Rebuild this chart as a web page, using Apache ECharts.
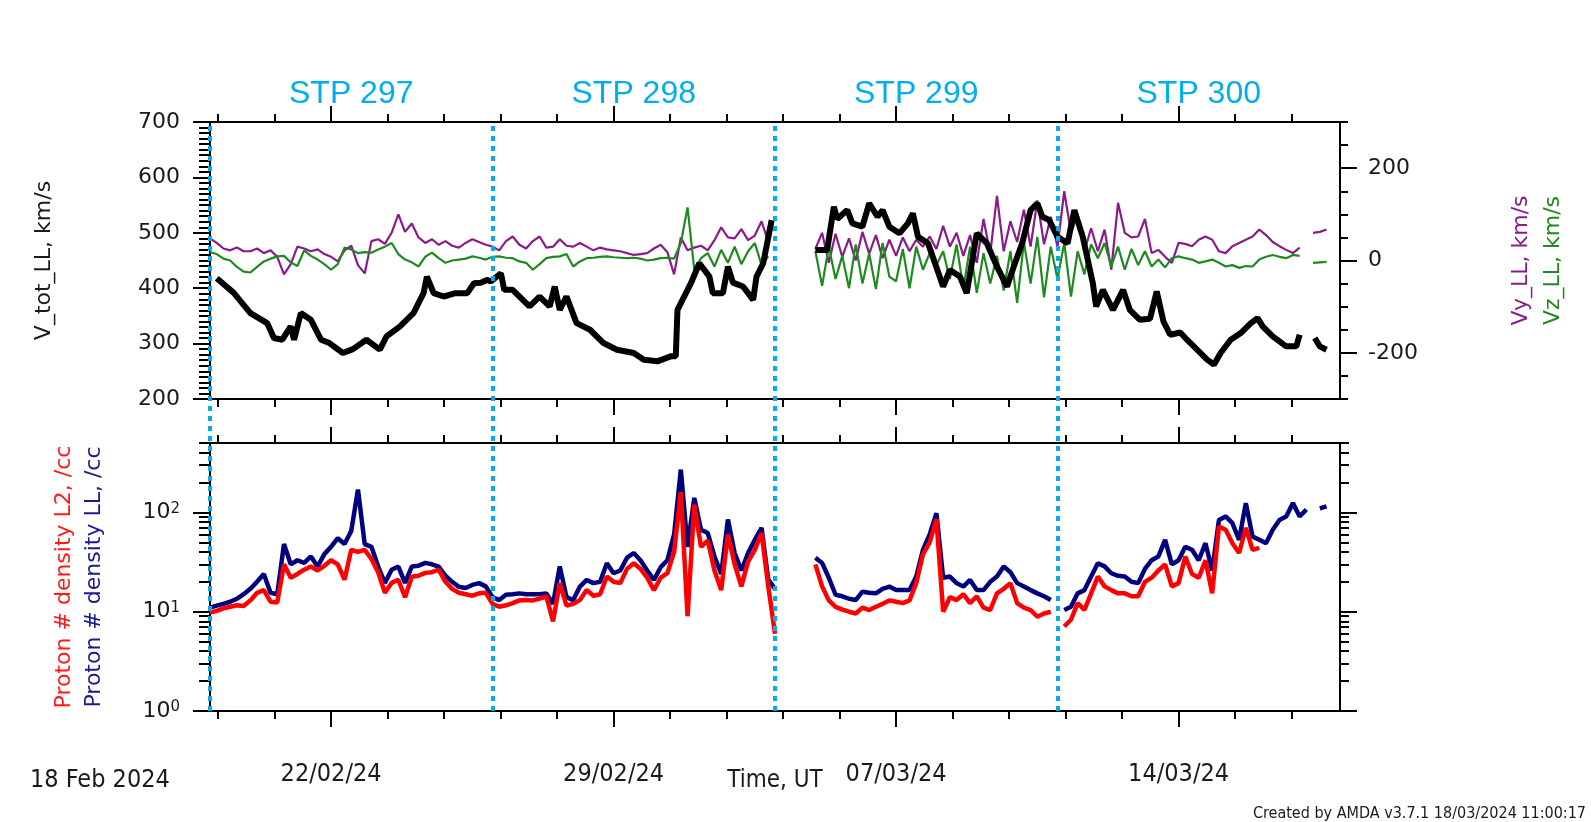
<!DOCTYPE html>
<html><head><meta charset="utf-8">
<script src="https://cdn.jsdelivr.net/npm/echarts@6/dist/echarts.min.js"></script>
<style>html,body{margin:0;padding:0;background:#fff;}#c{width:1591px;height:822px;}</style>
</head><body><div id="c"></div>
<script>
// ---------- time frame ----------
const startDate = '2024-02-19';
const endDate = '2024-03-18';
const stepHours = 4; // cadence of the uniform arrays below

// ---------- STP intervals ----------
const stpNames = ['STP 297', 'STP 298', 'STP 299', 'STP 300'];
const stpStarts = ['2024-02-19', '2024-02-26', '2024-03-04', '2024-03-11'];
const stpEnds = ['2024-02-26', '2024-03-04', '2024-03-11', '2024-03-18'];

// ---------- tick labels ----------
const majorTickDates = ['2024-02-22', '2024-02-29', '2024-03-07', '2024-03-14'];
const vyzLabelTicks = [-200, 0, 200];
const densLabelTicks = [1, 10, 100];
const densMinorTicks = [2, 3, 4, 5, 6, 7, 8, 9, 20, 30, 40, 50, 60, 70, 80, 90, 200, 300, 400, 500];

// ---------- V_tot_LL (km/s): hours since start, values ----------
const vtotHours = [4,14,24,34,38,43,48,50,54,60,66,71,79,85,93,101,105,113,121,127,129,133,139,146,153,157,161,165,167,
  173,175,180,186,190,196,202,205,208,212,218,226,234,242,252,258,266,274,277,278,286,291,297,299,305,308,311,317,323,325,329,334,
  340,
  360,367,371,373,379,382,388,392,397,400,404,410,415,418,421,427,436,440,446,450,456,462,468,474,478,483,488,492,495,499,504,510,514,519,525,527,531,537,543,547,553,559,563,567,571,577,581,587,593,597,601,607,613,619,623,626,632,640,646,648,
  652,
  657,660,664];
const vtotValues = [418,392,355,337,310,307,331,307,355,343,307,301,283,290,307,289,313,331,355,391,421,391,385,391,391,409,410,415,412,
  427,397,397,379,367,385,367,403,361,385,337,325,301,289,283,271,268,277,277,361,409,445,421,391,391,439,410,403,379,421,445,523,
  null,
  469,469,547,525,541,517,511,553,529,541,511,499,517,535,493,481,403,433,421,391,499,481,439,403,439,481,541,553,529,523,493,481,541,493,409,367,397,361,397,361,343,345,394,340,316,320,307,289,271,262,283,307,319,337,346,331,313,295,295,316,
  null,
  310,295,289];

// ---------- Vy_LL (km/s), every 4 h, one row per day ----------
const vyValues = [
  48, 38, 26, 22, 28, 20,
  20, 26, 16, 22, 8, -30,
  -8, 30, 26, 20, 24, 14,
  8, -2, 22, 32, -10, -28,
  42, 46, 36, 60, 100, 62,
  80, 50, 38, 46, 34, 42,
  32, 28, 38, 46, 40, 34,
  30, 22, 42, 52, 34, 26,
  42, 52, 28, 30, 46, 32,
  30, 38, 30, 22, 28, 24,
  22, 20, 16, 12, 14, 16,
  26, 34, 18, -30, 50, 22,
  28, 32, 22, 44, 72, 50,
  48, 68, 44, 54, 85, 40,
  null, null, null, null, null, null,
  25, 60, -5, 58, 8, 48,
  0, 62, 15, 55, 5, 45,
  10, 50, 20, 45, 30, 52,
  25, 75, 30, 60, 10, 55,
  -5, 90, 15, 140, 20, 85,
  40, 110, 30, 130, 35, 95,
  30, 150, 60, 100, 20, 70,
  20, 67, -20, 125, 60, 50,
  52, 90, 16, 23, 8, -5,
  38, 36, 31, 45, 52, 45,
  20, 16, 31, 38, 45, 52,
  67, 55, 40, 31, 23, 16,
  28, null, 60, 62, 67, null
];

// ---------- Vz_LL (km/s), every 4 h ----------
const vzValues = [
  18, 14, 4, 0, -14, -24,
  -26, -14, -2, 4, 9, 10,
  -4, -12, 22, 10, 2, -8,
  -20, -8, 28, 24, 16, 18,
  17, 24, 30, 38, 14, 2,
  -4, -13, 8, 17, 5, -5,
  0, 2, 4, 9, 6, 2,
  8, 9, 6, 5, -2, -5,
  -20, -8, 5, 8, 9, 14,
  -13, -2, 5, 6, 8, 9,
  7, 6, 5, 6, 4, 0,
  2, 5, 6, 4, 38, 115,
  -20, 5, 16, -13, 23, -5,
  30, -8, 20, 38, -10, 9,
  null, null, null, null, null, null,
  20, -55, 30, -40, 10, -60,
  35, -50, 15, -62, 38, -35,
  -45, 25, -60, 30, -20, 16,
  -10, 20, -40, 35, -60, 30,
  -70, 16, -50, 10, -65, 20,
  -92, 40, -50, 51, -80, 30,
  -40, 38, -78, 20, -30, 35,
  5, 38, -13, 30, -20, 25,
  -10, 20, -13, 2, -15, 5,
  9, 5, 2, -5, -2, 2,
  -5, -13, -10, -16, -12, -13,
  2, 8, 12, 8, 5, 12,
  10, null, -5, -4, -3, null
];

// ---------- Proton density L2 (/cc), every 4 h ----------
const densL2Values = [
  9.8, 10.2, 10.8, 11.2, 11.6, 11.4,
  13, 15.5, 16.5, 12.6, 12.4, 30,
  22, 24, 26.5, 28.5, 26, 29,
  33, 30, 21, 42, 40, 42,
  34, 25, 15.5, 19.5, 21, 14,
  22.5, 23, 24.6, 25, 26.5, 20,
  17, 15.5, 15, 14.5, 15.3, 15.5,
  12, 11.2, 11.6, 12.2, 13, 13.1,
  13, 13.5, 14.3, 8, 19.4, 11.5,
  12, 13.1, 16.5, 14.5, 15, 22.6,
  20, 19.4, 27, 30.8, 27, 22,
  16.5, 22, 24.4, 40, 160, 9,
  120, 45, 52, 26, 16.5, 60,
  30, 18, 32, 42, 62, 18,
  6, null, null, null, null, null,
  30, 18, 13, 11.2, 10.5, 10,
  9.6, 11, 10.4, 11.2, 12, 13,
  12.6, 12.2, 13, 19.4, 38, 50,
  85, 10, 14, 13.1, 15, 12.2,
  14.3, 11, 10.4, 15.3, 17, 19.4,
  12.2, 11, 10.4, 8.9, 9.6, 10,
  null, 7.1, 8.3, 12.2, 10.4, 15.3,
  22.6, 18, 16.5, 15.3, 15.3, 14.3,
  14.3, 20, 22, 26, 30, 18,
  19.4, 36, 24, 22, 33, 15.3,
  72, 67, 49, 39, 70, 42,
  44, null, null, null, null, null,
  null, null, null, null, null, null
];

// ---------- Proton density LL (/cc), every 4 h ----------
const densLLValues = [
  11, 11.5, 12, 12.6, 13.5, 15,
  17, 20, 24, 15.5, 15, 48,
  30, 33, 31, 36, 28.5, 38,
  45, 55, 48, 65, 170, 48,
  45, 28.5, 19.5, 26.5, 28.5, 19.5,
  28.5, 29, 31, 30, 28.5, 23,
  20, 17.8, 17.3, 18.6, 19.4, 18,
  14, 13.1, 14.8, 15, 15.3, 15,
  15, 15, 15.3, 12, 28.6, 14,
  13.1, 17.9, 20.9, 19.4, 20, 30.8,
  24.4, 26, 35, 39, 33, 26,
  20.9, 28, 33, 60, 270, 45,
  140, 67, 62, 36, 24, 85,
  39, 26, 39, 53, 70, 21,
  17, null, null, null, null, null,
  35, 31, 22, 14.8, 14.3, 13.5,
  13.1, 15.9, 15.5, 15.3, 17, 17.9,
  16.5, 16.5, 16.5, 22.6, 42, 60,
  98, 22, 22.6, 19.4, 17.9, 20.9,
  16.5, 16.5, 20, 22.6, 28.6, 25,
  19.4, 17.9, 16.5, 15.3, 14.3, 13.1,
  null, 10.4, 11.2, 15.3, 16.5, 22.6,
  30.8, 28.6, 24.4, 23, 22.6, 20,
  19.4, 27, 33, 36, 53, 30,
  33, 45, 42, 33, 49, 26,
  84, 91, 78, 53, 124, 57,
  53, 49, 67, 84, 91, 124,
  91, 107, null, 110, 115, null
];

// ---------- builders ----------
const HOUR = 3600 * 1000, DAY = 24 * HOUR;
const T0 = Date.parse(startDate), T1 = Date.parse(endDate);
const val = v => (v === null ? '-' : v);
const uniformSeries = arr => arr.map((v, i) => [T0 + i * stepHours * HOUR, val(v)]);
const pairedSeries = (hrs, vals) => hrs.map((h, i) => [T0 + h * HOUR, val(vals[i])]);
const majorTicks = majorTickDates.map(d => Date.parse(d));
const minorTicks = [];
for (let k = 0; k < 20; k++) minorTicks.push(T0 + (0.2 + 1.4 * k) * DAY);
const vMinorTicks = [];
for (let v = 200; v <= 700; v += 10) vMinorTicks.push(v);
const pad2 = n => (n < 10 ? '0' : '') + n;
const fmtDate = v => { const d = new Date(v); return pad2(d.getUTCDate()) + '/' + pad2(d.getUTCMonth() + 1) + '/' + String(d.getUTCFullYear()).slice(2); };

const TXT = '#1a1a1a';
const FONT = 'DejaVu Sans';
const CFONT = 'DejaVu Sans Condensed';
const AXLINE = { show: true, onZero: false, lineStyle: { color: '#000', width: 2 } };
const tickStyle = { color: '#000', width: 2 };

const G_TOP = { left: 210, top: 122, width: 1130, height: 277, outerBoundsMode: 'none', containLabel: false };
const G_BOT = { left: 210, top: 443, width: 1130, height: 268, outerBoundsMode: 'none', containLabel: false };
const G_ALL = { left: 210, top: 122, width: 1130, height: 589, outerBoundsMode: 'none', containLabel: false };
// narrow helper grid whose right edge sits on the left frame: carries the left minor ticks of the top panel
const G_TOP_L = { left: 110, top: 122, width: 100, height: 277, outerBoundsMode: 'none', containLabel: false };

function tAxis(grid, pos, ticks, len, extra) {
  return Object.assign({
    type: 'value', gridIndex: grid, position: pos, min: T0, max: T1,
    axisLine: AXLINE,
    axisTick: { show: true, customValues: ticks, length: len, lineStyle: tickStyle },
    axisLabel: { show: false }, splitLine: { show: false }, nameMoveOverlap: false
  }, extra || {});
}

const logFmt = v => '{b|10}{s|' + Math.round(Math.log10(v)) + '}';
const logRich = {
  b: { fontSize: 22, fontFamily: FONT, color: TXT, lineHeight: 22, verticalAlign: 'bottom' },
  s: { fontSize: 15, fontFamily: FONT, color: TXT, lineHeight: 15, verticalAlign: 'top', padding: [0, 0, 12, 0] }
};

const option = {
  animation: false,
  backgroundColor: '#fff',
  textStyle: { fontFamily: FONT },
  grid: [G_TOP, G_TOP, G_BOT, G_BOT, G_ALL, G_TOP_L],
  xAxis: [
    tAxis(0, 'bottom', minorTicks, 8),
    tAxis(0, 'top', minorTicks, 8),
    tAxis(1, 'bottom', majorTicks, 16),
    tAxis(1, 'top', majorTicks, 16),
    tAxis(2, 'bottom', minorTicks, 8),
    tAxis(2, 'top', minorTicks, 8),
    tAxis(3, 'bottom', majorTicks, 16, {
      axisLabel: { show: true, customValues: majorTicks, formatter: fmtDate, fontFamily: CFONT, fontSize: 25, color: TXT, margin: 51 },
      name: 'Time, UT', nameLocation: 'middle', nameGap: 58,
      nameTextStyle: { fontFamily: CFONT, fontSize: 24, color: TXT }
    }),
    tAxis(3, 'top', majorTicks, 16),
    { type: 'value', gridIndex: 4, min: T0, max: T1, show: false },
    { type: 'value', gridIndex: 5, min: 0, max: 1, show: false }
  ],
  yAxis: [
    { type: 'value', gridIndex: 0, position: 'left', min: 200, max: 700, interval: 100,
      axisLine: AXLINE,
      axisTick: { show: true, length: 17, lineStyle: tickStyle },
      axisLabel: { show: true, fontSize: 22, fontFamily: FONT, color: TXT, margin: 30 },
      splitLine: { show: false },
      name: 'V_tot_LL, km/s', nameLocation: 'middle', nameRotate: 90, nameGap: 153,
      nameTextStyle: { fontSize: 22, fontFamily: FONT, color: TXT, lineHeight: 26 } },
    { type: 'value', gridIndex: 0, position: 'right', min: -300, max: 300, interval: 50,
      axisLine: AXLINE,
      axisTick: { show: true, length: 8, lineStyle: tickStyle },
      axisLabel: { show: false }, splitLine: { show: false } },
    { type: 'value', gridIndex: 1, position: 'right', min: -300, max: 300,
      axisLine: AXLINE,
      axisTick: { show: true, customValues: vyzLabelTicks, length: 17, lineStyle: tickStyle },
      axisLabel: { show: true, customValues: vyzLabelTicks, fontSize: 22, fontFamily: FONT, color: TXT, margin: 28 },
      splitLine: { show: false },
      name: '{a|Vy_LL, km/s}\n{b|Vz_LL, km/s}', nameLocation: 'middle', nameRotate: 90, nameGap: 165,
      nameTextStyle: { rich: {
        a: { fontSize: 22, fontFamily: FONT, color: '#8b1a8b', lineHeight: 32 },
        b: { fontSize: 22, fontFamily: FONT, color: '#1f8a1f', lineHeight: 32 } } } },
    { type: 'log', logBase: 10, gridIndex: 2, position: 'left', min: 1, max: 500,
      axisLine: AXLINE,
      axisTick: { show: true, customValues: densLabelTicks, length: 17, lineStyle: tickStyle },
      axisLabel: { show: true, customValues: densLabelTicks, formatter: logFmt, rich: logRich, margin: 30 },
      splitLine: { show: false },
      name: '{r|Proton # density L2, /cc}\n{b|Proton # density LL, /cc}', nameLocation: 'middle', nameRotate: 90, nameGap: 101,
      nameTextStyle: { rich: {
        r: { fontSize: 22, fontFamily: FONT, color: '#ff1a1a', lineHeight: 30 },
        b: { fontSize: 22, fontFamily: FONT, color: '#1a1a8c', lineHeight: 30 } } } },
    { type: 'log', logBase: 10, gridIndex: 2, position: 'right', min: 1, max: 500,
      axisLine: AXLINE,
      axisTick: { show: true, customValues: densLabelTicks, length: 17, lineStyle: tickStyle },
      axisLabel: { show: false }, splitLine: { show: false } },
    { type: 'log', logBase: 10, gridIndex: 3, position: 'left', min: 1, max: 500,
      axisLine: AXLINE,
      axisTick: { show: true, customValues: densMinorTicks, length: 11, lineStyle: tickStyle },
      axisLabel: { show: false }, splitLine: { show: false } },
    { type: 'log', logBase: 10, gridIndex: 3, position: 'right', min: 1, max: 500,
      axisLine: AXLINE,
      axisTick: { show: true, customValues: densMinorTicks, length: 9, lineStyle: tickStyle },
      axisLabel: { show: false }, splitLine: { show: false } },
    { type: 'value', gridIndex: 4, min: 0, max: 1, show: false },
    { type: 'value', gridIndex: 5, position: 'right', min: 200, max: 700,
      axisLine: AXLINE,
      axisTick: { show: true, inside: true, customValues: vMinorTicks, length: 11, lineStyle: tickStyle },
      axisLabel: { show: false }, splitLine: { show: false } }
  ],
  series: [
    { name: 'Vy_LL', type: 'line', xAxisIndex: 0, yAxisIndex: 1, showSymbol: false, symbol: 'none',
      data: uniformSeries(vyValues), lineStyle: { color: '#8b1a8b', width: 2.2 }, itemStyle: { color: '#8b1a8b' }, z: 2 },
    { name: 'Vz_LL', type: 'line', xAxisIndex: 0, yAxisIndex: 1, showSymbol: false, symbol: 'none',
      data: uniformSeries(vzValues), lineStyle: { color: '#1f8a1f', width: 2.2 }, itemStyle: { color: '#1f8a1f' }, z: 3 },
    { name: 'V_tot_LL', type: 'line', xAxisIndex: 0, yAxisIndex: 0, showSymbol: false, symbol: 'none',
      data: pairedSeries(vtotHours, vtotValues), lineStyle: { color: '#000', width: 6 }, itemStyle: { color: '#000' }, z: 4 },
    { name: 'Proton # density LL', type: 'line', xAxisIndex: 4, yAxisIndex: 3, showSymbol: false, symbol: 'none',
      data: uniformSeries(densLLValues), lineStyle: { color: '#00007f', width: 4.5 }, itemStyle: { color: '#00007f' }, z: 2 },
    { name: 'Proton # density L2', type: 'line', xAxisIndex: 4, yAxisIndex: 3, showSymbol: false, symbol: 'none',
      data: uniformSeries(densL2Values), lineStyle: { color: '#ff0000', width: 4.5 }, itemStyle: { color: '#ff0000' }, z: 3 },
    { name: 'STP', type: 'line', xAxisIndex: 8, yAxisIndex: 7, data: [], silent: true, z: 10,
      markLine: { silent: true, symbol: ['none', 'none'], label: { show: false },
        lineStyle: { color: '#00aeef', width: 4, type: [5, 5] },
        data: stpStarts.map(d => ({ xAxis: Date.parse(d) })) },
      markArea: { silent: true, itemStyle: { color: 'rgba(0,0,0,0)' },
        label: { show: true, position: 'top', distance: 12, color: '#00aeef', fontSize: 32, fontFamily: 'Liberation Sans' },
        data: stpNames.map((n, i) => [{ name: n, xAxis: Date.parse(stpStarts[i]), yAxis: 1 }, { xAxis: Date.parse(stpEnds[i]), yAxis: 0 }]) } }
  ],
  graphic: [
    { type: 'text', left: 30, top: 768, style: { text: '18 Feb 2024', font: '25px "DejaVu Sans Condensed"', fill: TXT } },
    { type: 'text', right: 5, top: 806, style: { text: 'Created by AMDA v3.7.1 18/03/2024 11:00:17', font: '16px "DejaVu Sans Condensed"', fill: TXT } }
  ]
};

const chart = echarts.init(document.getElementById('c'), null, { renderer: 'canvas' });
chart.setOption(option);
</script></body></html>
